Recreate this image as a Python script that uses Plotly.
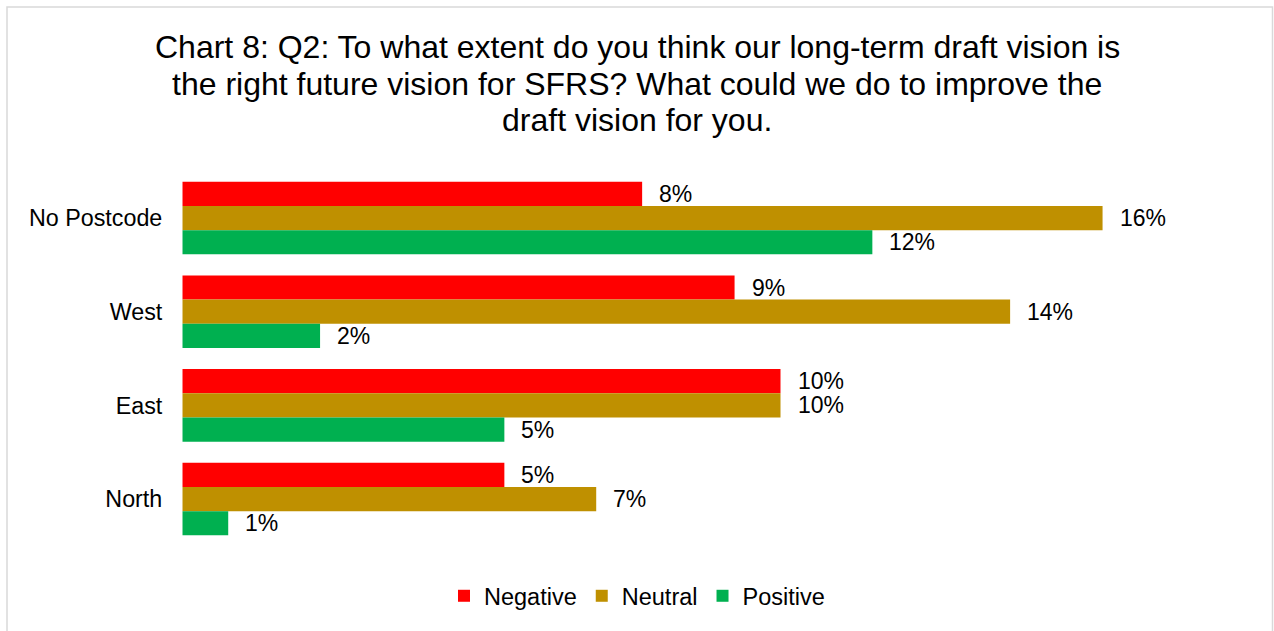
import plotly.graph_objects as go

# Survey responses by area (share of all responses, %)
categories = ["No Postcode", "West", "East", "North"]
negative = [7.81, 9.38, 10.16, 5.47]
neutral = [15.63, 14.06, 10.16, 7.03]
positive = [11.72, 2.34, 5.47, 0.78]

series_names = ["Negative", "Neutral", "Positive"]
series_values = [negative, neutral, positive]
series_colors = ["#FF0000", "#BF9000", "#00B050"]

title_lines = [
    "Chart 8: Q2: To what extent do you think our long-term draft vision is",
    "the right future vision for SFRS? What could we do to improve the",
    "draft vision for you.",
]

W, H = 1274, 631
FONT = "Arial, 'Liberation Sans', sans-serif"

fig = go.Figure()
for name, vals, color in zip(series_names, series_values, series_colors):
    fig.add_trace(go.Bar(
        y=categories, x=vals, name=name, orientation="h",
        marker=dict(color=color, line=dict(width=0)),
    ))

# value labels to the right of each bar
bar_px = 24.2
shifts = [bar_px, 0, -bar_px]
annotations = []
for vals, ys in zip(series_values, shifts):
    for cat, v in zip(categories, vals):
        annotations.append(dict(
            x=v, y=cat, xref="x", yref="y", text=f"{v:.0f}%",
            showarrow=False, xanchor="left", yanchor="middle",
            xshift=15, yshift=ys,
            font=dict(family=FONT, size=23, color="#000000"),
        ))

# chart title, one line per annotation for tighter line spacing
title_centers = [47, 83.5, 120]
for line, yc in zip(title_lines, title_centers):
    annotations.append(dict(
        x=0.5, y=1 - yc / H, xref="paper", yref="paper",
        text=line, showarrow=False,
        xanchor="center", yanchor="middle", align="center",
        font=dict(family=FONT, size=32, color="#000000"),
    ))

fig.update_layout(
    width=W, height=H,
    margin=dict(l=0, r=0, t=0, b=0),
    paper_bgcolor="white", plot_bgcolor="white",
    barmode="group", bargap=0.225, bargroupgap=0,
    showlegend=True,
    legend=dict(
        orientation="h", x=0.5, xanchor="center",
        y=1 - 596 / H, yanchor="middle",
        font=dict(family=FONT, size=23.5, color="#000000"),
        traceorder="normal",
    ),
    xaxis=dict(
        range=[0, 18], domain=[182.3 / W, 1242.1 / W],
        visible=False, fixedrange=True,
    ),
    yaxis=dict(
        domain=[1 - 545.9 / H, 1 - 171.2 / H],
        autorange="reversed", showgrid=False, showline=False,
        zeroline=False, ticks="", ticklabelstandoff=19,
        tickfont=dict(family=FONT, size=23.3, color="#000000"),
    ),
    annotations=annotations,
    shapes=[dict(
        type="rect", xref="paper", yref="paper",
        x0=7 / W, x1=1272.5 / W, y0=-0.05, y1=1 - 7 / H,
        line=dict(color="#D9D9D9", width=1.5),
        fillcolor="rgba(0,0,0,0)", layer="below",
    )],
)

fig.write_html("out.html")
